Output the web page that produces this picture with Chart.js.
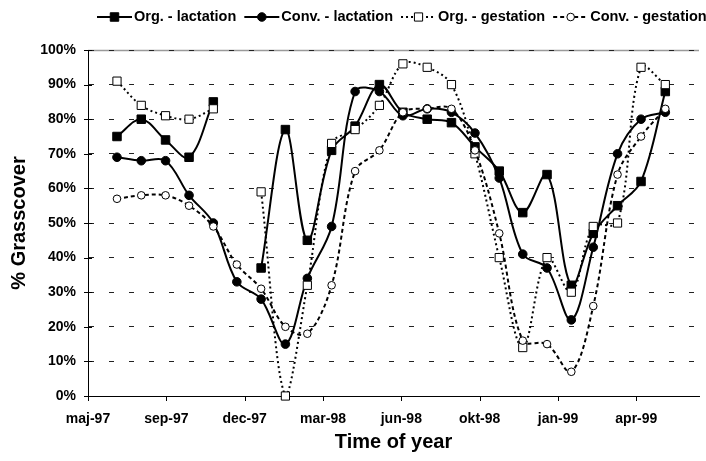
<!DOCTYPE html>
<html>
<head>
<meta charset="utf-8">
<script src="https://cdn.jsdelivr.net/npm/chart.js@4"></script>
<style>
html,body{margin:0;padding:0;background:#fff;}
#wrap{width:706px;height:461px;position:relative;}
</style>
</head>
<body>
<div id="wrap"><canvas id="c" width="706" height="461"></canvas></div>
<script>
// ---- data ----
const months = ['1997-07','1997-08','1997-09','1997-10','1997-11','1997-12',
                '1998-01','1998-02','1998-03','1998-04','1998-05','1998-06',
                '1998-07','1998-08','1998-09','1998-10','1998-11','1998-12',
                '1999-01','1999-02','1999-03','1999-04','1999-05','1999-06'];
const orgLactation  = [75,80,74,69,85,null,37,77,45,71,78,90,82,80,79,72,65,53,64,32,47,55,62,88];
const convLactation = [69,68,68,58,50,33,28,15,34,49,88,88,81,83,82,76,63,41,37,22,43,70,80,82];
const orgGestation  = [91,84,81,80,83,null,59,0,32,73,77,84,96,95,90,70,40,14,40,30,49,50,95,90];
const convGestation = [57,58,58,55,49,38,31,20,18,32,65,71,82,83,83,71,47,16,15,7,26,64,75,83];
const tickLabels = ['maj-97','sep-97','dec-97','mar-98','jun-98','okt-98','jan-99','apr-99'];
const seriesNames = ['Org. - lactation','Conv. - lactation','Org. - gestation','Conv. - gestation'];

// axis origin date and tick step (days)
const ORIGIN = Date.UTC(1997,4,25);
const STEP = 100;
const dayOf = m => { const [y,mo] = m.split('-').map(Number); return (Date.UTC(y,mo-1,1)-ORIGIN)/864e5; };
const xs = months.map(dayOf);
const pts = arr => arr.map((v,i)=>({x:xs[i], y:v}));

const FONT = '"Liberation Sans", Arial, sans-serif';

const styles = [
  {pointStyle:'rect',   radius:6,   fill:'#000', dash:[],    r:6},
  {pointStyle:'circle', radius:4.3, fill:'#000', dash:[],    r:4.3},
  {pointStyle:'rect',   radius:5.8, fill:'#fff', dash:[2,3], r:5.8},
  {pointStyle:'circle', radius:3.8, fill:'#fff', dash:[4,3], r:3.8}
];
const seriesData = [orgLactation, convLactation, orgGestation, convGestation];

const datasets = seriesData.map((d,i)=>({
  label: seriesNames[i],
  data: pts(d),
  borderColor:'#000',
  borderWidth:2,
  borderDash: styles[i].dash,
  pointStyle: styles[i].pointStyle,
  pointRadius: styles[i].radius,
  pointBackgroundColor: styles[i].fill,
  pointBorderColor:'#000',
  pointBorderWidth: 1,
  tension: 0.35,
  spanGaps:false,
  fill:false,
  order: 4-i,
  clip: 6
}));

const decor = {
  id:'decor',
  beforeDraw(chart){
    const {ctx, chartArea:a, scales:{y}} = chart;
    ctx.save();
    ctx.strokeStyle = '#9a9a9a';
    ctx.lineWidth = 1.5;
    const yt = Math.round(y.getPixelForValue(100))+0.5;
    ctx.beginPath(); ctx.moveTo(a.left, yt); ctx.lineTo(a.right, yt); ctx.stroke();
    ctx.restore();
  },
  afterDatasetsDraw(chart){
    const {ctx, chartArea:a, scales:{x,y}} = chart;
    ctx.save();
    ctx.strokeStyle = '#000'; ctx.lineWidth = 1;
    for (let v=0; v<=100; v+=10){
      const py = Math.round(y.getPixelForValue(v))+0.5;
      ctx.beginPath(); ctx.moveTo(a.left-4, py); ctx.lineTo(a.left+4, py); ctx.stroke();
    }
    tickLabels.forEach((l,i)=>{
      const px = Math.round(x.getPixelForValue(i*STEP))+0.5;
      ctx.beginPath(); ctx.moveTo(px, a.bottom); ctx.lineTo(px, a.bottom+5); ctx.stroke();
    });
    ctx.restore();
  },
  afterDraw(chart){
    const ctx = chart.ctx;
    ctx.save();
    ctx.font = 'bold 14.5px ' + FONT;
    ctx.textBaseline = 'middle';
    ctx.fillStyle = '#000';
    let cx = 97; const cy = 17;
    seriesNames.forEach((name,i)=>{
      const s = styles[i];
      ctx.strokeStyle = '#000'; ctx.lineWidth = 2;
      ctx.setLineDash(s.dash);
      ctx.beginPath(); ctx.moveTo(cx, cy); ctx.lineTo(cx+35, cy); ctx.stroke();
      ctx.setLineDash([]);
      const mx = cx+17.5;
      ctx.lineWidth = 1; ctx.fillStyle = s.fill;
      if (s.pointStyle==='rect'){
        const h = s.r*Math.SQRT1_2;
        ctx.beginPath(); ctx.rect(mx-h, cy-h, 2*h, 2*h); ctx.fill(); ctx.stroke();
      } else {
        ctx.beginPath(); ctx.arc(mx, cy, s.r, 0, Math.PI*2); ctx.fill(); ctx.stroke();
      }
      ctx.fillStyle = '#000';
      ctx.fillText(name, cx+37, cy);
      cx += 37 + ctx.measureText(name).width + 8;
    });
    ctx.restore();
  }
};

new Chart(document.getElementById('c'), {
  type:'line',
  data:{datasets},
  plugins:[decor],
  options:{
    responsive:false,
    animation:false,
    devicePixelRatio:1,
    layout:{padding:{top:50,right:2,left:0,bottom:0}},
    plugins:{legend:{display:false}, tooltip:{enabled:false}},
    elements:{line:{capBezierPoints:true}},
    scales:{
      x:{
        type:'linear',
        min:0, max:780,
        afterBuildTicks: s => { s.ticks = tickLabels.map((l,i)=>({value:i*STEP})); },
        afterFit: s => { s.height = 65; },
        ticks:{
          autoSkip:false, maxRotation:0,
          callback:(v,i)=>tickLabels[i],
          font:{family:FONT, size:14, weight:'bold'}, color:'#000', padding:15
        },
        grid:{display:false, drawTicks:false},
        border:{display:true, color:'#000', width:1},
        title:{display:true, text:'Time of year', color:'#000',
               font:{family:FONT, size:20, weight:'bold'}, padding:{top:0,bottom:7}}
      },
      y:{
        min:0, max:100,
        afterBuildTicks: s => { const t=[]; for(let v=0; v<=100; v+=10) t.push({value:v}); s.ticks=t; },
        afterFit: s => { s.width = 88; },
        ticks:{
          callback:v=>v+'%',
          font:{family:FONT, size:14, weight:'bold'}, color:'#000', padding:12
        },
        grid:{display:true, drawTicks:false, color:'#222', lineWidth:1},
        border:{display:true, color:'#000', width:1, dash:[5,15]},
        title:{display:true, text:'% Grasscover', color:'#000',
               font:{family:FONT, size:20, weight:'bold'}, padding:{top:7,bottom:0}}
      }
    }
  }
});
</script>
</body>
</html>
